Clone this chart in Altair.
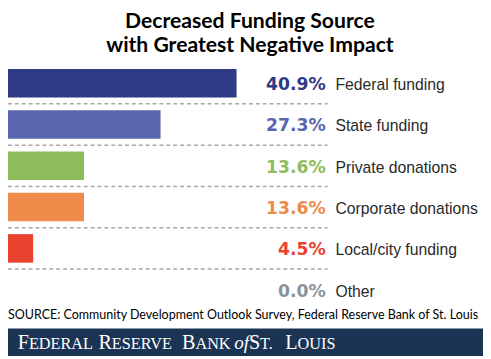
import altair as alt
import pandas as pd

categories = ["Federal funding", "State funding", "Private donations",
              "Corporate donations", "Local/city funding", "Other"]
values = [40.9, 27.3, 13.6, 13.6, 4.5, 0.0]
labels = ["40.9%", "27.3%", "13.6%", "13.6%", "4.5%", "0.0%"]
bar_colors = ["#2f3b84", "#5a66ad", "#8dbd5a", "#f08a4b", "#e8432f", "#8a939c"]
has_rule = [True, True, True, True, True, False]

title_lines = ["Decreased Funding Source", "with Greatest Negative Impact"]
source_text = "SOURCE: Community Development Outlook Survey, Federal Reserve Bank of St. Louis"

df = pd.DataFrame({
    "category": categories,
    "value": values,
    "label": labels,
    "color": bar_colors,
    "rule": has_rule,
})

W, H = 483, 351
one = pd.DataFrame({"a": [0]})

yscale = alt.Scale(domain=categories, range=[52.5, 304.5],
                   paddingInner=0.31, paddingOuter=0.155)
ycat = alt.Y("category:N", scale=yscale, axis=None, sort=categories)
xscale = alt.Scale(domain=[0, 85], nice=False)

bars = alt.Chart(df).mark_bar(cornerRadius=0).encode(
    x=alt.X("value:Q", scale=xscale, axis=None),
    y=ycat,
    color=alt.Color("color:N", scale=None),
)

rules = alt.Chart(df).transform_filter(alt.datum.rule).mark_rule(
    color="#a8a8a8", strokeDash=[4, 3], strokeWidth=1.5, yOffset=21
).encode(
    x=alt.value(0), x2=alt.value(325),
    y=alt.Y("category:N", scale=yscale, axis=None, sort=categories, bandPosition=0.5),
)

pct = alt.Chart(df).mark_text(
    align="right", baseline="alphabetic", dy=7, font="DejaVu Sans",
    fontWeight="bold", fontSize=17.5
).encode(
    x=alt.value(323), y=ycat, text="label:N",
    color=alt.Color("color:N", scale=None),
)

names = alt.Chart(df).mark_text(
    align="left", baseline="alphabetic", dy=7, font="Liberation Sans",
    fontSize=16, color="#2a2a2a"
).encode(
    x=alt.value(333), y=ycat, text="category:N",
)

def txt(text, x, y, size, font, weight="normal", align="left", color="#000000", style="normal"):
    return alt.Chart(one).mark_text(
        text=text, align=align, baseline="alphabetic", font=font,
        fontSize=size, fontWeight=weight, fontStyle=style, color=color
    ).encode(x=alt.value(x), y=alt.value(y))

title1 = txt(title_lines[0], 246, 17, 21.5, "Lato", "bold", "center")
title2 = txt(title_lines[1], 246, 42, 21.5, "Lato", "bold", "center")
source = txt(source_text, 0, 313, 12.7, "Lato")

footer_bg = alt.Chart(one).mark_rect(color="#1b3454").encode(
    x=alt.value(0), x2=alt.value(W), y=alt.value(323), y2=alt.value(H)
)

FB, FS, FY, FW = 20.5, 16.5, 344, "#ffffff"
serif = "Liberation Serif"
footer_parts = [
    txt("F", 10, FY, FB, serif, color=FW),
    txt("EDERAL", 21.3, FY, FS, serif, color=FW),
    txt("R", 92, FY, FB, serif, color=FW),
    txt("ESERVE", 105.6, FY, FS, serif, color=FW),
    txt("B", 177, FY, FB, serif, color=FW),
    txt("ANK", 190.6, FY, FS, serif, color=FW),
    txt("of", 230, FY, 19.5, serif, color=FW, style="italic"),
    txt("S", 245, FY, FB, serif, color=FW),
    txt("T.", 256.3, FY, FS, serif, color=FW),
    txt("L", 282, FY, FB, serif, color=FW),
    txt("OUIS", 294.5, FY, FS, serif, color=FW),
]

chart = alt.layer(
    bars, rules, pct, names, title1, title2, source, footer_bg, *footer_parts
).properties(
    width=W, height=H, autosize=alt.AutoSizeParams(type="none"), padding=0,
    background="#ffffff"
).configure_view(stroke=None)

chart.save("out.html", embed_options={"renderer": "svg", "actions": False})
